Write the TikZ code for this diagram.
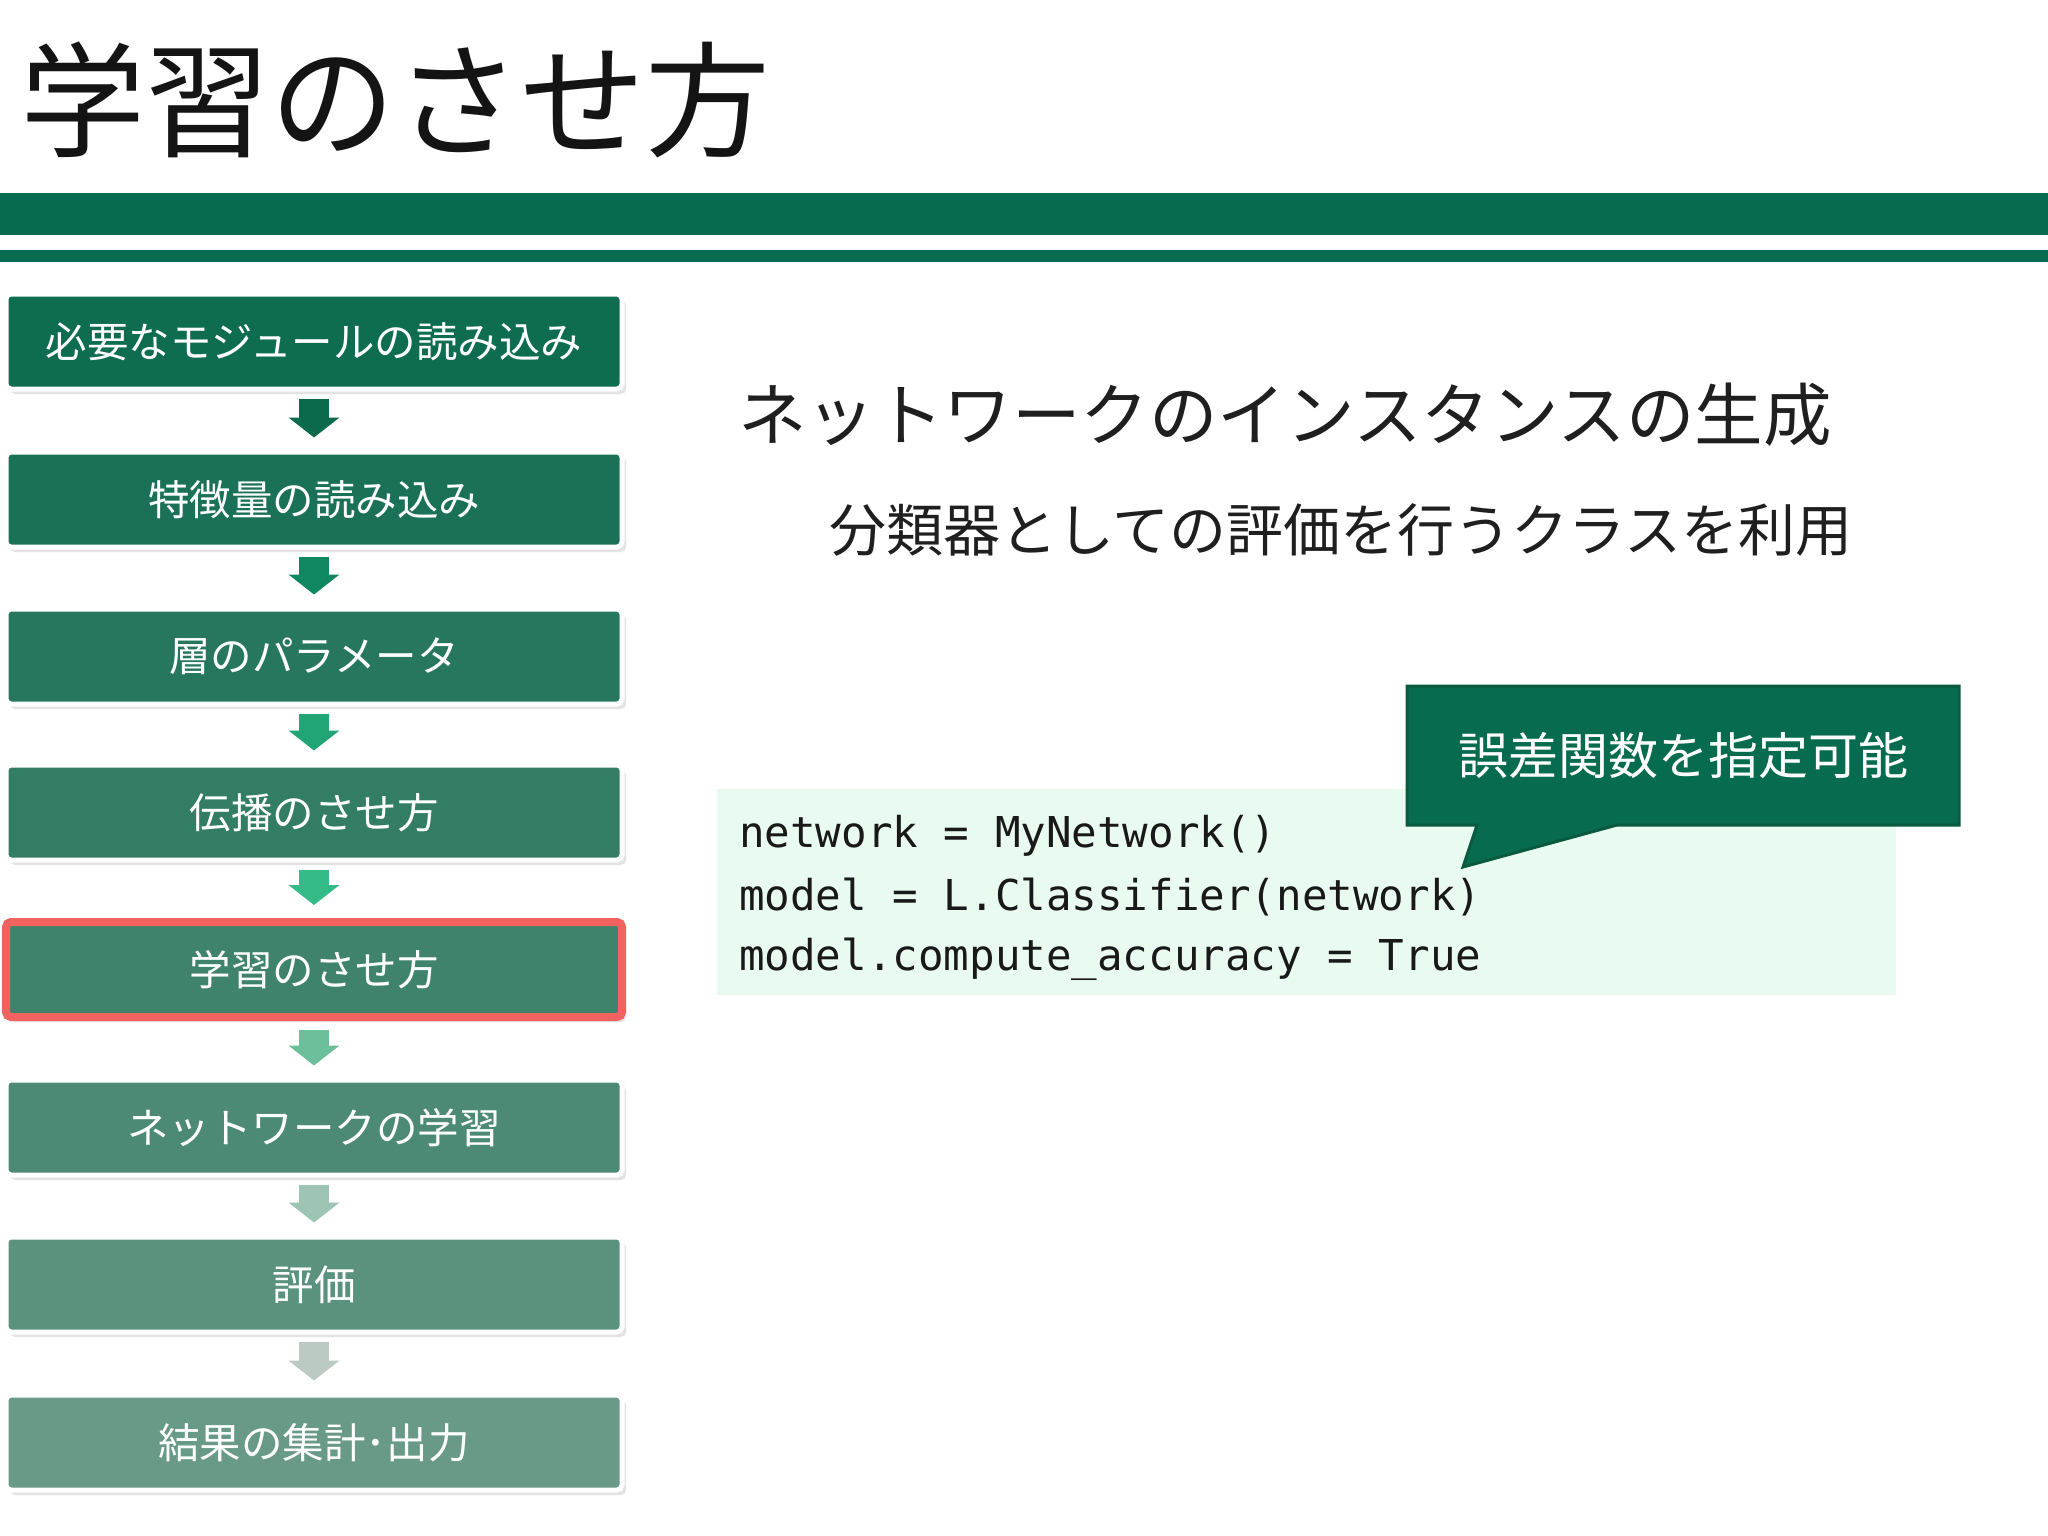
\documentclass[tikz,border=0pt]{standalone}
\usepackage{fontspec}
\newfontfamily\jp{Noto Sans CJK JP}
\newfontfamily\codefont{DejaVu Sans Mono}
\usetikzlibrary{shadows,shapes.callouts,arrows.meta,calc}
\definecolor{barg}{HTML}{066B4F}
\definecolor{b1}{HTML}{0E6C50}
\definecolor{b2}{HTML}{1B7157}
\definecolor{b3}{HTML}{27775E}
\definecolor{b4}{HTML}{337D65}
\definecolor{b5}{HTML}{3F836D}
\definecolor{b6}{HTML}{4C8A75}
\definecolor{b7}{HTML}{5A927E}
\definecolor{b8}{HTML}{689A87}
\definecolor{a1}{HTML}{0B6A4B}
\definecolor{a2}{HTML}{0F8760}
\definecolor{a3}{HTML}{22A574}
\definecolor{a4}{HTML}{34BB87}
\definecolor{a5}{HTML}{6CBF9B}
\definecolor{a6}{HTML}{9EC5B3}
\definecolor{a7}{HTML}{BCCAC4}
\definecolor{redc}{HTML}{F2625F}
\definecolor{codebg}{HTML}{E9FBF1}
\definecolor{callg}{HTML}{066B4F}
\definecolor{callb}{HTML}{0A5A40}
\tikzset{
  stepbox/.style={rectangle, rounded corners=5pt, minimum width=616pt, minimum height=95pt,
    inner sep=0pt, draw=white, line width=5pt, text=white,
    font=\jp\fontsize{41.5}{41.5}\selectfont,
    drop shadow={shadow xshift=4pt, shadow yshift=-5pt, opacity=0.22}},
  flowarrow/.style={line width=30pt, -{Triangle[width=50pt,length=20pt]}},
  plaintext/.style={inner sep=0pt, anchor=west},
  codeline/.style={inner sep=0pt, anchor=west, font=\codefont\fontsize{42.5}{42.5}\selectfont, text=black!90},
}
\begin{document}
\begin{tikzpicture}[x=1pt,y=-1pt]
\useasboundingbox (0,0) rectangle (2048,1536);
\fill[white] (0,0) rectangle (2048,1536);
% title and bars
\node[anchor=base west, inner sep=0pt, font=\jp\fontsize{125}{125}\selectfont, text=black!92] (title) at (20,147) {学習のさせ方};
\fill[barg] (0,193) rectangle (2048,235);
\fill[barg] (0,250) rectangle (2048,262);
% flow boxes
\node[stepbox, fill=b1] (s1) at (314,341.5) {必要なモジュールの読み込み};
\node[stepbox, fill=b2] (s2) at (314,499.5) {特徴量の読み込み};
\node[stepbox, fill=b3] (s3) at (314,656.5) {層のパラメータ};
\node[stepbox, fill=b4] (s4) at (314,812.5) {伝播のさせ方};
\node[stepbox, fill=b5, draw=redc, line width=8pt] (s5) at (314,969.5) {学習のさせ方};
\node[stepbox, fill=b6] (s6) at (314,1127.5) {ネットワークの学習};
\node[stepbox, fill=b7] (s7) at (314,1284.5) {評価};
\node[stepbox, fill=b8] (s8) at (314,1442.5) {結果の集計･出力};
% arrows
\draw[flowarrow, color=a1] ($(s1.south)+(0,7)$) -- ($(s2.north)-(0,12)$);
\draw[flowarrow, color=a2] ($(s2.south)+(0,7)$) -- ($(s3.north)-(0,12)$);
\draw[flowarrow, color=a3] ($(s3.south)+(0,7)$) -- ($(s4.north)-(0,12)$);
\draw[flowarrow, color=a4] ($(s4.south)+(0,7)$) -- ($(s5.north)-(0,13)$);
\draw[flowarrow, color=a5] ($(s5.south)+(0,9)$) -- ($(s6.north)-(0,12)$);
\draw[flowarrow, color=a6] ($(s6.south)+(0,7)$) -- ($(s7.north)-(0,12)$);
\draw[flowarrow, color=a7] ($(s7.south)+(0,7)$) -- ($(s8.north)-(0,12)$);
% right side texts
\node[plaintext, font=\jp\fontsize{68.5}{68.5}\selectfont, text=black!88] (inst) at (738,415) {ネットワークのインスタンスの生成};
\node[plaintext, font=\jp\fontsize{57}{57}\selectfont, text=black!88] (cls) at (829,530) {分類器としての評価を行うクラスを利用};
% code box
\node[rectangle, fill=codebg, anchor=north west, minimum width=1179pt, minimum height=206pt, inner sep=0pt] (code) at (717,789) {};
\node[codeline] (c1) at (739,836) {network = MyNetwork()};
\node[codeline] (c2) at (739,897) {model = L.Classifier(network)};
\node[codeline] (c3) at (739,959) {model.compute\_accuracy = True};
% callout
\node[rectangle callout, fill=callg, draw=callb, line width=3pt, minimum width=552pt, minimum height=139pt,
  inner sep=0pt, callout absolute pointer={(1463,867)}, callout pointer width=140pt,
  text=white, font=\jp\fontsize{50}{50}\selectfont] (call) at (1683,755.5) {誤差関数を指定可能};
\end{tikzpicture}
\end{document}
